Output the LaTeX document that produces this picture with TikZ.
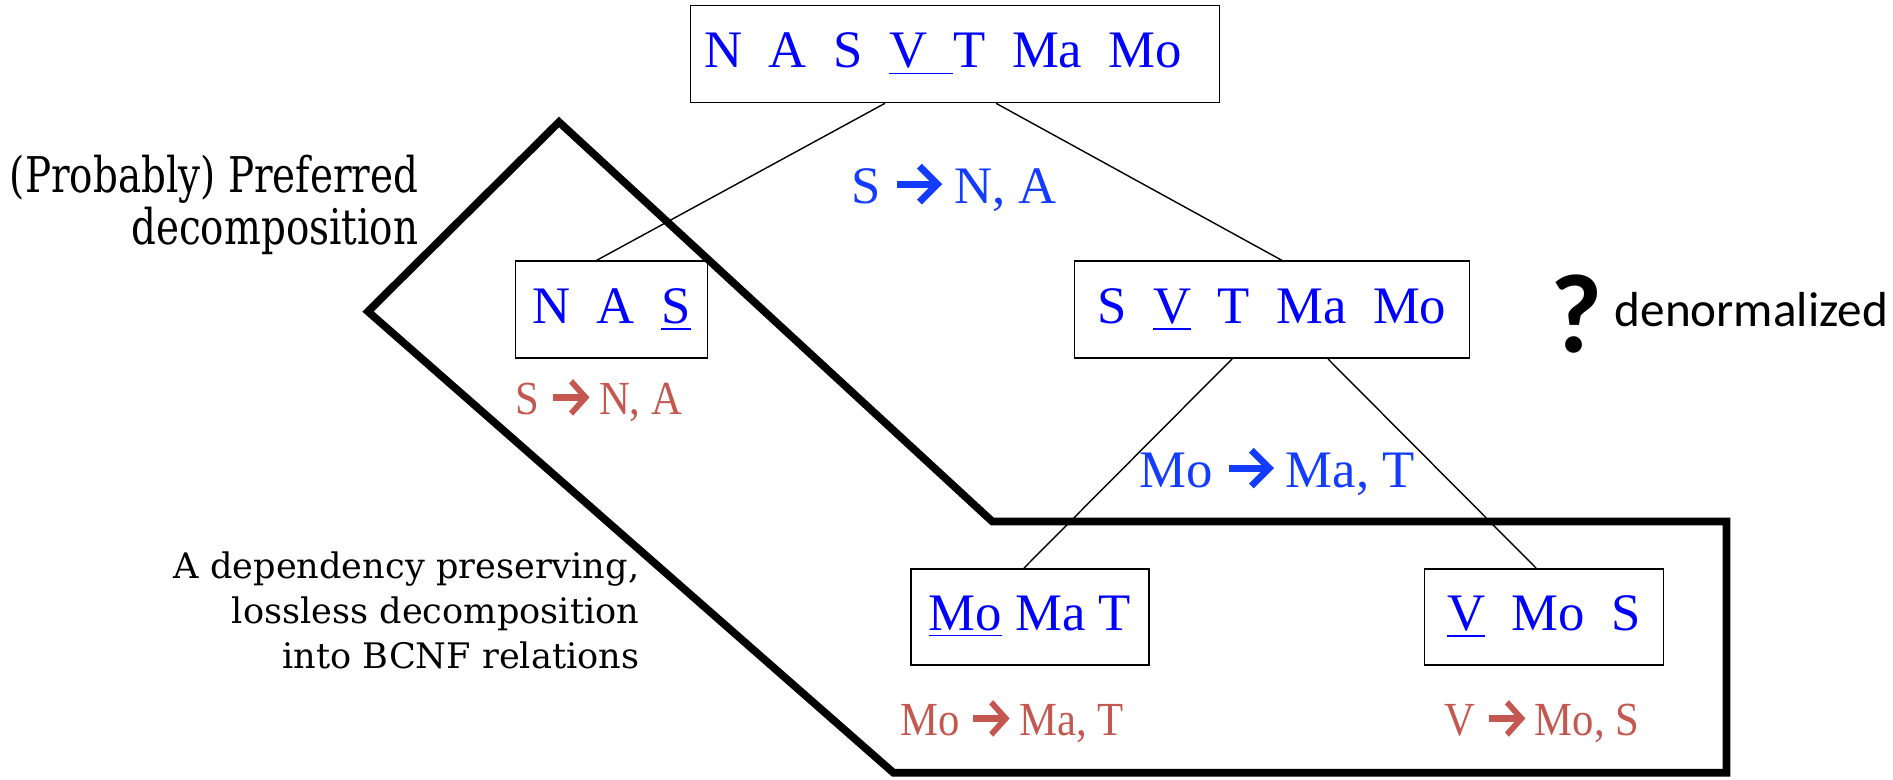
\documentclass[tikz,border=0pt]{standalone}
\usepackage{fontspec}
\setmainfont{Liberation Serif}
\newfontfamily\bookfont{DejaVu Serif}
\newfontfamily\calfont{Carlito}
\usepackage{graphicx}
\usetikzlibrary{arrows.meta,positioning,calc}
\definecolor{relblue}{RGB}{0,0,255}
\definecolor{fdblue}{RGB}{20,60,255}
\definecolor{fdred}{RGB}{196,88,80}
\newcommand{\gap}{\hspace{0.5em}}
\newcommand{\fdto}{\tikz[baseline={(0,-0.36em)}]{\draw[line width=0.13em] (0,0) -- (0.74em,0); \draw[line width=0.13em] (0.42em,0.34em) -- (0.76em,0) -- (0.42em,-0.34em);}}

\begin{document}
\begin{tikzpicture}[
  rel/.style={draw, line width=0.45pt, minimum height=0.97cm, inner sep=0pt, text=relblue, font=\fontsize{15}{18}\selectfont},
  fd/.style={text=fdblue, font=\fontsize{15}{18}\selectfont},
  fdsmall/.style={text=fdred, font=\fontsize{13.5}{16}\selectfont},
  link/.style={line width=0.4pt},
  frame/.style={line width=2.2pt}]
  \useasboundingbox (0,0) rectangle (18.93,-7.79);
  \node[rel, inner xsep=0.14cm, text width=5.01cm, align=left] (all) at (9.55,-0.54) {N\gap A\gap S\gap \underline{V\gap}T\gap Ma\gap Mo};
  \node[rel, minimum width=1.92cm] (nas) at (6.115,-3.097) {N\gap A\gap \underline{S}};
  \node[rel, minimum width=3.95cm] (svt) at (12.72,-3.097) {S\gap \underline{V}\gap T\gap Ma\gap Mo};
  \node[rel, minimum width=2.38cm, minimum height=0.96cm] (mmt) at (10.30,-6.168) {\underline{Mo} Ma T};
  \node[rel, minimum width=2.39cm, minimum height=0.96cm] (vms) at (15.44,-6.168) {\underline{V}\gap Mo\gap S};
  \draw[link] ([xshift=-0.70cm]all.south) -- ([xshift=-0.15cm]nas.north);
  \draw[link] ([xshift=0.41cm]all.south) -- ([xshift=0.10cm]svt.north);
  \draw[link] ([xshift=-0.40cm]svt.south) -- ([xshift=-0.06cm]mmt.north);
  \draw[link] ([xshift=0.56cm]svt.south) -- ([xshift=-0.08cm]vms.north);
  \node[fd] (fdtop) at (9.54,-1.87) {S \fdto{} N, A};
  \node[fd] (fdmid) at (12.77,-4.71) {Mo \fdto{} Ma, T};
  \node[fdsmall] (fdnas) at (5.99,-4.00) {\scalebox{0.9}[1]{S \fdto{} N, A}};
  \node[fdsmall] (fdmmt) at (10.12,-7.21) {\scalebox{0.9}[1]{Mo \fdto{} Ma, T}};
  \node[fdsmall] (fdvms) at (15.42,-7.21) {\scalebox{0.9}[1]{V \fdto{} Mo, S}};
  \node[font=\calfont\bfseries\fontsize{32}{32}\selectfont] (q) at (15.77,-3.14) {?};
  \node[anchor=base west, inner sep=0pt, font=\calfont\fontsize{14}{16}\selectfont] (denorm) at (16.14,-3.26) {denormalized};
  \node[anchor=east, inner sep=0pt, align=right, font=\bookfont\fontsize{14}{13.7}\selectfont] (pref) at (4.19,-2.05)
    {\scalebox{0.79}[1]{(Probably) Preferred}\\\scalebox{0.79}[1]{decomposition}};
  \node[anchor=east, inner sep=0pt, align=right, font=\bookfont\fontsize{10}{12.8}\selectfont] (bcnf) at (6.40,-6.10)
    {A dependency preserving,\\lossless decomposition\\into BCNF relations};
  \draw[frame] (3.68,-3.115) -- (5.59,-1.22) -- (9.924,-5.216) -- (17.264,-5.216)
    -- (17.264,-7.727) -- (8.934,-7.727) -- cycle;
\end{tikzpicture}
\end{document}
